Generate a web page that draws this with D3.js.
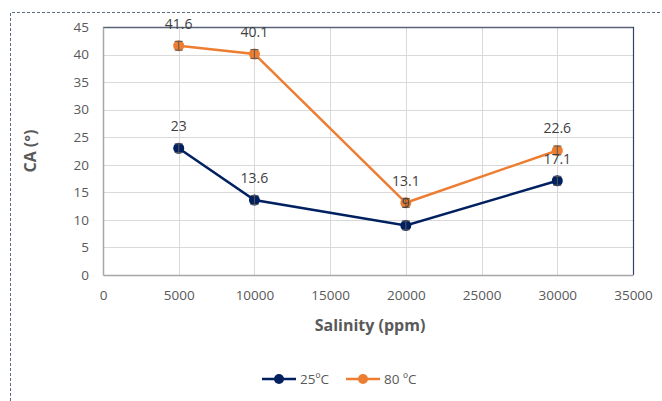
<!DOCTYPE html>
<html>
<head>
<meta charset="utf-8">
<script src="https://cdn.jsdelivr.net/npm/d3@7"></script>
<style>
  body { margin: 0; background: #fff; }
  svg { display: block; font-family: "Open Sans", sans-serif; }
</style>
</head>
<body>
<svg id="chart" width="662" height="401"></svg>
<script>
// Contact angle vs. salinity at two temperatures
const salinity = [5000, 10000, 20000, 30000];
const ca25 = [23, 13.6, 9, 17.1];
const ca80 = [41.6, 40.1, 13.1, 22.6];
const err25 = [0.8, 0.8, 0.8, 0.8];
const err80 = [0.8, 0.8, 0.8, 0.8];
const xTicks = [0, 5000, 10000, 15000, 20000, 25000, 30000, 35000];
const yTicks = [0, 5, 10, 15, 20, 25, 30, 35, 40, 45];
const seriesNames = ["25ºC", "80 ºC"];
const seriesColors = ["#002060", "#ED7D31"];

const svg = d3.select("#chart");
const m = { left: 103, right: 633, top: 27, bottom: 275 };

const x = d3.scaleLinear().domain([0, 35000]).range([m.left, m.right]);
const y = d3.scaleLinear().domain([0, 45]).range([m.bottom, m.top]);

// dashed outer frame
svg.append("path")
  .attr("d", `M10.5,${401} V12.5 H662`)
  .attr("fill", "none")
  .attr("stroke", "#5b6b85")
  .attr("stroke-width", 1)
  .attr("stroke-dasharray", "3,2");

// gridlines
svg.append("g").selectAll("line").data(yTicks.slice(1)).join("line")
  .attr("x1", m.left).attr("x2", m.right)
  .attr("y1", d => Math.round(y(d)) + 0.5).attr("y2", d => Math.round(y(d)) + 0.5)
  .attr("stroke", "#d9d9d9");
svg.append("g").selectAll("line").data(xTicks.slice(1)).join("line")
  .attr("y1", m.top).attr("y2", m.bottom)
  .attr("x1", d => Math.round(x(d)) + 0.5).attr("x2", d => Math.round(x(d)) + 0.5)
  .attr("stroke", "#d9d9d9");

// plot border: top and right darker, left and bottom as axes
svg.append("line").attr("x1", m.left).attr("x2", m.right + 1)
  .attr("y1", m.top + 0.5).attr("y2", m.top + 0.5)
  .attr("stroke", "#5a6378").attr("stroke-width", 1.5);
svg.append("line").attr("x1", m.right + 0.5).attr("x2", m.right + 0.5)
  .attr("y1", m.top).attr("y2", m.bottom)
  .attr("stroke", "#2f4170").attr("stroke-width", 1.2);

// axes
const xAxis = svg.append("g").attr("transform", `translate(0,${m.bottom})`)
  .call(d3.axisBottom(x).tickValues(xTicks).tickSize(0).tickPadding(15).tickFormat(d3.format("d")));
const yAxis = svg.append("g").attr("transform", `translate(${m.left},0)`)
  .call(d3.axisLeft(y).tickValues(yTicks).tickSize(0).tickPadding(14));
[xAxis, yAxis].forEach(g => {
  g.select(".domain").attr("stroke", "#a6a6a6").attr("stroke-width", 1.5);
  g.selectAll("text").attr("fill", "#595959").attr("font-size", 13.5)
    .attr("font-family", "'Open Sans', sans-serif");
});

// axis titles
svg.append("text").attr("x", 370).attr("y", 331).attr("text-anchor", "middle")
  .attr("font-size", 16).attr("font-weight", "bold").attr("fill", "#595959")
  .text("Salinity (ppm)");
svg.append("text").attr("transform", "translate(36,151) rotate(-90)")
  .attr("text-anchor", "middle")
  .attr("font-size", 16).attr("font-weight", "bold").attr("fill", "#595959")
  .text("CA (°)");

const series = [
  { values: ca25, err: err25, color: seriesColors[0] },
  { values: ca80, err: err80, color: seriesColors[1] }
];

const line = d3.line().x(d => x(d[0])).y(d => y(d[1]));

series.forEach(s => {
  const pts = salinity.map((v, i) => [v, s.values[i], s.err[i]]);
  svg.append("path").datum(pts).attr("d", line)
    .attr("fill", "none").attr("stroke", s.color).attr("stroke-width", 2.5);
  const g = svg.append("g");
  g.selectAll("circle").data(pts).join("circle")
    .attr("cx", d => x(d[0])).attr("cy", d => y(d[1])).attr("r", 5.5)
    .attr("fill", s.color);
  // error bars
  const eb = g.selectAll("g.eb").data(pts).join("g").attr("class", "eb");
  eb.append("line")
    .attr("x1", d => x(d[0])).attr("x2", d => x(d[0]))
    .attr("y1", d => y(d[1] - d[2])).attr("y2", d => y(d[1] + d[2]))
    .attr("stroke", "#595959").attr("stroke-width", 1);
  [1, -1].forEach(sign => {
    eb.append("line")
      .attr("x1", d => x(d[0]) - 4).attr("x2", d => x(d[0]) + 4)
      .attr("y1", d => y(d[1] + sign * d[2])).attr("y2", d => y(d[1] + sign * d[2]))
      .attr("stroke", "#595959").attr("stroke-width", 1);
  });
});

// value labels
series.forEach(s => {
  svg.append("g").selectAll("text").data(salinity.map((v, i) => [v, s.values[i]])).join("text")
    .attr("x", d => x(d[0])).attr("y", d => y(d[1]) - 17)
    .attr("text-anchor", "middle").attr("font-size", 14).attr("fill", "#404040")
    .text(d => d[1]);
});

// legend
const legend = [
  { name: seriesNames[0], color: seriesColors[0], x0: 262 },
  { name: seriesNames[1], color: seriesColors[1], x0: 346 }
];
const ly = 379;
legend.forEach(l => {
  svg.append("line").attr("x1", l.x0).attr("x2", l.x0 + 34)
    .attr("y1", ly).attr("y2", ly).attr("stroke", l.color).attr("stroke-width", 2.5);
  svg.append("circle").attr("cx", l.x0 + 17).attr("cy", ly).attr("r", 5).attr("fill", l.color);
  svg.append("text").attr("x", l.x0 + 38).attr("y", ly + 4.5)
    .attr("font-size", 13.5).attr("fill", "#595959").text(l.name);
});
</script>
</body>
</html>
